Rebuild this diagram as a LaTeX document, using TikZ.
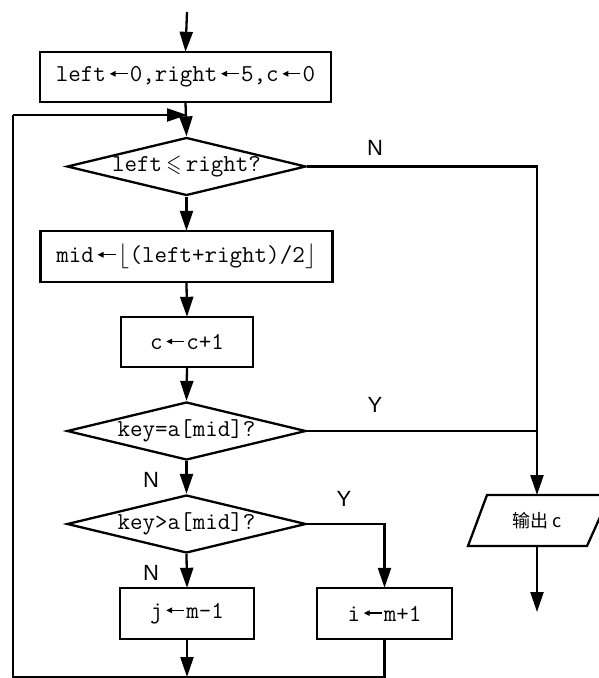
\documentclass[tikz,border=0pt]{standalone}
\usepackage{fontspec}
\usepackage{amssymb}
\usepackage{graphicx}
\newfontfamily\labfont{Liberation Sans}
\newfontfamily\cjkfont{Noto Sans CJK SC}
\usetikzlibrary{shapes.geometric,arrows.meta}
\newcommand\cellbox[1]{\makebox[0.49em]{#1}}
\newcommand\la{\makebox[0.98em][r]{\tikz[baseline=0pt,x=1pt,y=1pt,line width=1.3pt]{\draw[-{Triangle[length=6pt,width=5.5pt]}] (18,8) -- (0,8);}\hspace{1.5pt}}}
\newcommand\leqs{\makebox[0.98em]{\scalebox{0.8}[1]{$\leqslant$}}}
\newcommand\lfl{\cellbox{$\lfloor$}}
\newcommand\rfl{\cellbox{$\rfloor$}}
\begin{document}
\begin{tikzpicture}[x=1pt,y=-1pt,line width=2.3pt,
  codetext/.style={font=\ttfamily\fontsize{24.3}{26}\selectfont\addfontfeature{FakeBold=2}},
  box/.style={draw,rectangle,inner sep=0pt,codetext},
  dia/.style={draw,diamond,aspect=4.1,inner sep=0pt,minimum width=239pt,minimum height=58pt,codetext},
  arr/.style={-{Triangle[length=20pt,width=13pt]}},
  lab/.style={font=\labfont\fontsize{22}{24}\selectfont,inner sep=0pt}]
\useasboundingbox (0,0) rectangle (599,678);
\fill[white] (0,0) rectangle (599,678);

\coordinate (start) at (187,12);
\node[box,minimum width=291pt,minimum height=50pt] (b1) at (185.5,77) {left\la0,right\la5,c\la0};
\node[dia] (d1) at (186.5,166.5) {left\leqs right?};
\node[box,minimum width=292pt,minimum height=51pt] (b2) at (186.5,256.5) {mid\la\lfl(left+right)/2\rfl};
\node[box,minimum width=132pt,minimum height=50pt] (b3) at (187,342) {c\la c+1};
\node[dia] (d2) at (186.5,431) {key=a[mid]?};
\node[dia] (d3) at (186.5,524) {key>a[mid]?};
\node[box,minimum width=134pt,minimum height=51pt] (bj) at (187,613.5) {j\la m-1};
\node[box,minimum width=135pt,minimum height=51pt] (bi) at (384.5,613.5) {i\la m+1};

% output parallelogram
\coordinate (otop) at (537,495);
\coordinate (obot) at (537,546);
\coordinate (oend) at (537,612);
\draw (487,495) -- (610,495) -- (587,546) -- (468,546) -- cycle;
\node[font=\cjkfont\fontsize{18}{20}\selectfont,inner sep=0pt] (out) at (537,521) {输出 c};

% labels
\node[lab] (n1) at (375,148) {N};
\node[lab] (y1) at (375,405) {Y};
\node[lab] (n2) at (151,480) {N};
\node[lab] (y2) at (344,499) {Y};
\node[lab] (n3) at (151,573) {N};

% loop coordinates
\coordinate (jbot) at (187,677);
\coordinate (ibot) at (384.5,677);
\coordinate (bl) at (13,677);
\coordinate (tl) at (13,115);
\coordinate (tm) at (187,115);

% main flow
\draw[arr] (start) -- (b1.north);
\draw[arr] (b1.south) -- (d1.north);
\draw[arr] (d1.south) -- (b2.north);
\draw[arr] (b2.south) -- (b3.north);
\draw[arr] (b3.south) -- (d2.north);
\draw[arr] (d2.south) -- (d3.north);
\draw[arr] (d3.south) -- (bj.north);
\draw[arr] (d3.east) -| (bi.north);
\draw[arr] (d1.east) -| (otop);
\draw (d2.east) -- (otop |- d2.east);
\draw[arr] (obot) -- (oend);
\draw[arr] (bj.south) -- (jbot);
\draw (bi.south) -- (ibot) -- (bl) -- (tl);
\draw[arr] (tl) -- (tm);
\end{tikzpicture}
\end{document}
